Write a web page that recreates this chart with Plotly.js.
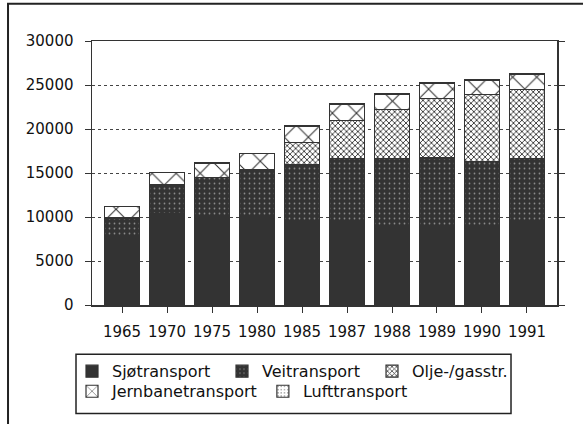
<!DOCTYPE html>
<html>
<head>
<meta charset="utf-8">
<script src="https://cdn.plot.ly/plotly-3.0.1.min.js"></script>
<style>
  html, body { margin: 0; padding: 0; background: #fff; }
  #chart { width: 583px; height: 424px; }
</style>
</head>
<body>
<div id="chart"></div>
<script>
// years on the x axis
const years = ['1965', '1970', '1975', '1980', '1985', '1987', '1988', '1989', '1990', '1991']

// stacked values (bottom to top)
const sjotransport = [7750, 10370, 10180, 9950, 9620, 9440, 8870, 9050, 8870, 9440]
const veitransport = [2130, 3270, 4335, 5390, 6290, 7230, 7800, 7650, 7430, 7230]
const oljeGass = [0, 0, 0, 0, 2580, 4270, 5550, 6740, 7590, 7860]
const jernbane = [1285, 1415, 1585, 1845, 1860, 1835, 1765, 1770, 1675, 1670]
const lufttransport = [15, 25, 40, 55, 70, 85, 95, 100, 95, 100]

const ink = '#333'
const font = 'DejaVu Sans'

function bar(name, values, pattern, legend) {
    return {
        type: 'bar',
        name: name,
        x: years,
        y: values,
        legend: legend,
        marker: {
            color: pattern ? '#fff' : ink,
            line: {color: ink, width: 1.2},
            pattern: pattern || {shape: ''},
        },
        hoverinfo: 'x+y+name',
    }
}

const traces = [
    bar('Sjøtransport', sjotransport, null, 'legend'),
    bar('Veitransport', veitransport,
        {shape: '.', bgcolor: ink, fgcolor: '#8a8a8a', size: 5, solidity: 0.1}, 'legend'),
    bar('Olje-/gasstr.', oljeGass,
        {shape: 'x', bgcolor: '#fff', fgcolor: ink, size: 4, solidity: 0.4}, 'legend'),
    bar('Jernbanetransport', jernbane,
        {shape: 'x', bgcolor: '#fff', fgcolor: ink, size: 17, solidity: 0.12}, 'legend2'),
    bar('Lufttransport', lufttransport,
        {shape: '.', bgcolor: '#fff', fgcolor: '#999', size: 4, solidity: 0.2}, 'legend2'),
]

const layout = {
    width: 583,
    height: 424,
    margin: {l: 92, r: 26, t: 41, b: 119},
    paper_bgcolor: '#fff',
    plot_bgcolor: '#fff',
    font: {family: font, size: 15, color: '#111'},
    barmode: 'stack',
    bargap: 0.23,
    showlegend: true,
    xaxis: {
        type: 'category',
        range: [-0.667, 9.667],
        showline: true,
        linecolor: ink,
        linewidth: 1.5,
        mirror: true,
        ticks: 'outside',
        ticklen: 6,
        tickcolor: ink,
        ticklabelstandoff: 6,
        showgrid: false,
        fixedrange: true,
    },
    yaxis: {
        range: [0, 30000],
        dtick: 5000,
        tickformat: 'd',
        showline: true,
        linecolor: ink,
        linewidth: 1.5,
        mirror: 'ticks',
        ticks: 'outside',
        ticklen: 6,
        tickcolor: ink,
        ticklabelstandoff: 8,
        showgrid: true,
        gridcolor: '#444',
        griddash: 'dot',
        gridwidth: 1,
        zeroline: false,
        fixedrange: true,
    },
    legend: {
        orientation: 'h',
        x: -0.043, xanchor: 'left',
        y: -0.251, yanchor: 'middle',
        font: {family: font, size: 16, color: '#111'},
        bgcolor: 'rgba(0,0,0,0)',
        borderwidth: 0,
        traceorder: 'normal',
        entrywidth: 105,
    },
    legend2: {
        orientation: 'h',
        x: -0.043, xanchor: 'left',
        y: -0.327, yanchor: 'middle',
        font: {family: font, size: 16, color: '#111'},
        bgcolor: 'rgba(0,0,0,0)',
        borderwidth: 0,
        traceorder: 'normal',
    },
    shapes: [
        // outer frame of the figure
        {type: 'rect', xref: 'paper', yref: 'paper',
         x0: -0.1806, x1: 1.08, y0: -0.5, y1: 1.1407,
         line: {color: '#222', width: 2}},
        // box around the legend
        {type: 'rect', xref: 'paper', yref: 'paper',
         x0: -0.0344, x1: 0.9011, y0: -0.4106, y1: -0.1863,
         line: {color: '#222', width: 1.5}},
    ],
}

Plotly.newPlot('chart', traces, layout, {displayModeBar: false, staticPlot: true})
</script>
</body>
</html>
